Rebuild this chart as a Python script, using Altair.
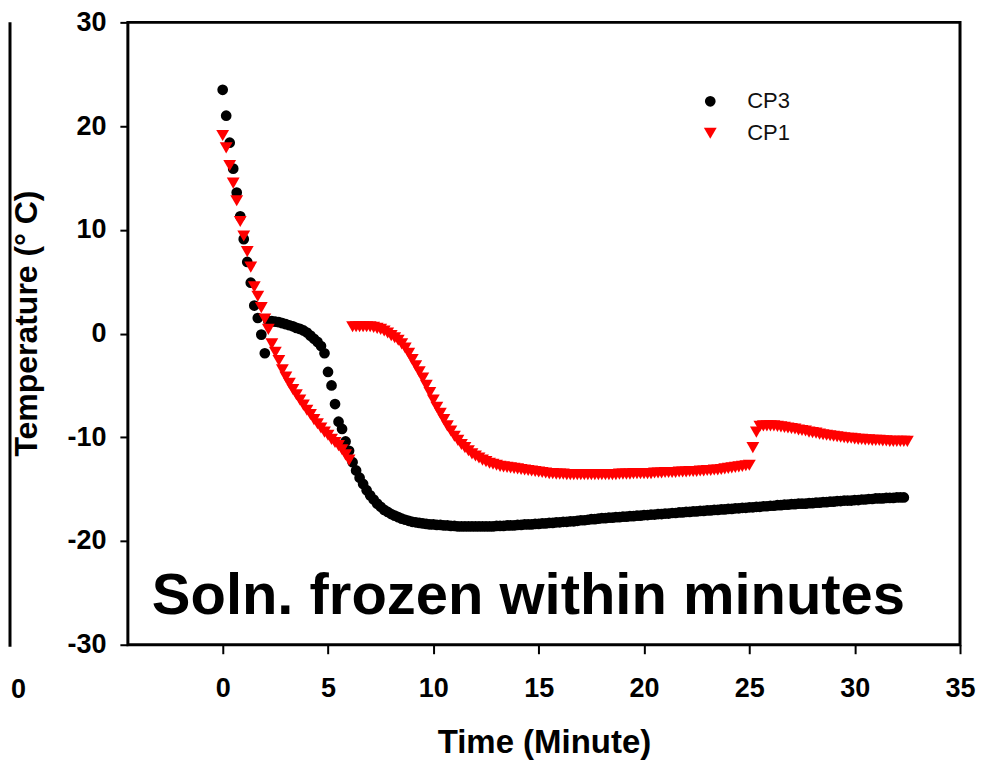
import altair as alt
import pandas as pd

# sampling times (seconds, 10 s logger interval)
seconds = [
    0, 10, 20, 30, 40, 50, 60, 70, 80, 90, 100, 110,
    120, 130, 140, 150, 160, 170, 180, 190, 200, 210, 220, 230,
    240, 250, 260, 270, 280, 290, 300, 310, 320, 330, 340, 350,
    360, 370, 380, 390, 400, 410, 420, 430, 440, 450, 460, 470,
    480, 490, 500, 510, 520, 530, 540, 550, 560, 570, 580, 590,
    600, 610, 620, 630, 640, 650, 660, 670, 680, 690, 700, 710,
    720, 730, 740, 750, 760, 770, 780, 790, 800, 810, 820, 830,
    840, 850, 860, 870, 880, 890, 900, 910, 920, 930, 940, 950,
    960, 970, 980, 990, 1000, 1010, 1020, 1030, 1040, 1050, 1060, 1070,
    1080, 1090, 1100, 1110, 1120, 1130, 1140, 1150, 1160, 1170, 1180, 1190,
    1200, 1210, 1220, 1230, 1240, 1250, 1260, 1270, 1280, 1290, 1300, 1310,
    1320, 1330, 1340, 1350, 1360, 1370, 1380, 1390, 1400, 1410, 1420, 1430,
    1440, 1450, 1460, 1470, 1480, 1490, 1500, 1510, 1520, 1530, 1540, 1550,
    1560, 1570, 1580, 1590, 1600, 1610, 1620, 1630, 1640, 1650, 1660, 1670,
    1680, 1690, 1700, 1710, 1720, 1730, 1740, 1750, 1760, 1770, 1780, 1790,
    1800, 1810, 1820, 1830, 1840, 1850, 1860, 1870, 1880, 1890, 1900, 1910,
    1920, 1930, 1940, 1950,
]

cp3_temp = [
    23.5, 21.0, 18.4, 15.9, 13.6, 11.3, 9.1, 6.9, 4.9, 2.7, 1.5, -0.1,
    -1.9, 1.2, 1.2, 1.15, 1.1, 1.0, 0.9, 0.8, 0.7, 0.55, 0.45, 0.3,
    0.1, -0.2, -0.5, -0.8, -1.2, -1.9, -3.7, -5.0, -6.8, -8.5, -9.2, -10.4,
    -11.3, -12.4, -13.2, -13.9, -14.5, -15.1, -15.6, -16.0, -16.4, -16.7, -17.0, -17.2,
    -17.4, -17.55, -17.7, -17.85, -17.95, -18.05, -18.15, -18.2, -18.25, -18.3, -18.35, -18.4,
    -18.4, -18.45, -18.45, -18.5, -18.5, -18.55, -18.55, -18.6, -18.6, -18.6, -18.6, -18.6,
    -18.6, -18.6, -18.6, -18.6, -18.6, -18.6, -18.55, -18.55, -18.55, -18.5, -18.5, -18.5,
    -18.45, -18.45, -18.4, -18.4, -18.4, -18.35, -18.35, -18.3, -18.3, -18.25, -18.25, -18.2,
    -18.2, -18.15, -18.15, -18.1, -18.1, -18.05, -18.0, -18.0, -17.95, -17.9, -17.9, -17.85,
    -17.8, -17.8, -17.75, -17.75, -17.7, -17.7, -17.65, -17.65, -17.6, -17.6, -17.55, -17.55,
    -17.5, -17.5, -17.45, -17.45, -17.4, -17.4, -17.35, -17.35, -17.3, -17.3, -17.25, -17.25,
    -17.2, -17.2, -17.15, -17.15, -17.1, -17.1, -17.05, -17.05, -17.0, -17.0, -16.95, -16.95,
    -16.9, -16.9, -16.85, -16.85, -16.8, -16.8, -16.75, -16.75, -16.7, -16.7, -16.65, -16.65,
    -16.6, -16.6, -16.55, -16.55, -16.5, -16.5, -16.45, -16.45, -16.4, -16.4, -16.4, -16.35,
    -16.35, -16.3, -16.3, -16.25, -16.25, -16.2, -16.2, -16.15, -16.15, -16.1, -16.1, -16.1,
    -16.05, -16.05, -16.0, -16.0, -15.95, -15.95, -15.9, -15.9, -15.9, -15.85, -15.85, -15.85,
    -15.8, -15.8, -15.8,
]

cp1_temp = [
    19.1, 17.9, 16.2, 14.5, 12.8, 10.8, 9.4, 7.9, 6.4, 4.5, 3.6, 2.5,
    1.4, 0.4, -1.0, -1.8, -2.6, -3.5, -4.2, -4.8, -5.4, -5.9, -6.4, -6.9,
    -7.4, -7.8, -8.3, -8.7, -9.1, -9.5, -9.8, -10.2, -10.5, -10.8, -11.2, -11.7,
    -12.2, 0.65, 0.65, 0.65, 0.65, 0.65, 0.65, 0.6, 0.5, 0.4, 0.25, 0.05,
    -0.2, -0.4, -0.65, -1.0, -1.4, -1.9, -2.5, -3.1, -3.7, -4.3, -5.0, -5.7,
    -6.4, -7.1, -7.7, -8.3, -8.9, -9.4, -9.9, -10.3, -10.7, -11.0, -11.3, -11.6,
    -11.8, -12.0, -12.2, -12.35, -12.5, -12.6, -12.7, -12.8, -12.85, -12.9, -12.95, -13.0,
    -13.05, -13.1, -13.15, -13.2, -13.25, -13.3, -13.35, -13.4, -13.45, -13.5, -13.5, -13.55,
    -13.55, -13.55, -13.6, -13.6, -13.6, -13.6, -13.6, -13.6, -13.6, -13.6, -13.6, -13.6,
    -13.6, -13.6, -13.6, -13.6, -13.6, -13.55, -13.55, -13.55, -13.55, -13.5, -13.5, -13.5,
    -13.5, -13.5, -13.5, -13.45, -13.45, -13.45, -13.4, -13.4, -13.4, -13.4, -13.35, -13.35,
    -13.35, -13.3, -13.3, -13.3, -13.25, -13.25, -13.2, -13.2, -13.15, -13.15, -13.1, -13.05,
    -13.0, -12.95, -12.9, -12.85, -12.8, -12.75, -12.7, -11.0, -9.5, -8.95, -8.9, -8.9,
    -8.9, -8.9, -8.95, -9.0, -9.05, -9.1, -9.15, -9.2, -9.3, -9.35, -9.4, -9.5,
    -9.55, -9.6, -9.7, -9.75, -9.8, -9.85, -9.9, -9.95, -10.0, -10.05, -10.1, -10.1,
    -10.15, -10.2, -10.2, -10.25, -10.25, -10.3, -10.3, -10.3, -10.35, -10.35, -10.4, -10.4,
    -10.4, -10.4, -10.4, -10.4,
]

series_names = ["CP3", "CP1"]
x_ticks = [0, 5, 10, 15, 20, 25, 30, 35]
y_ticks = [-30, -20, -10, 0, 10, 20, 30]
note_text = ["Soln. frozen within minutes"]
edge_label = ["0"]

rows = []
for name, temps in zip(series_names, [cp3_temp, cp1_temp]):
    for s, t in zip(seconds, temps):
        rows.append({"series": name, "sec": s, "temp": t})
df = pd.DataFrame(rows)

FONT = "Liberation Sans"

legend = alt.Legend(
    title=None, orient="none", legendX=572, legendY=68,
    labelFont=FONT, labelFontSize=22, labelFontWeight="normal", labelColor="#111111",
    symbolSize=130, symbolStrokeWidth=0, labelOffset=26, rowPadding=10, padding=0,
)

points = (
    alt.Chart(df)
    .transform_calculate(minute="datum.sec / 60")
    .mark_point(filled=True, opacity=1, strokeWidth=0)
    .encode(
        x=alt.X(
            "minute:Q",
            scale=alt.Scale(domain=[-4.5, 35], nice=False, zero=False),
            axis=alt.Axis(
                values=x_ticks, title="Time (Minute)", labelPadding=22, tickSize=9,
                titleFontSize=33, titleY=108, titleBaseline="alphabetic",
            ),
        ),
        y=alt.Y(
            "temp:Q",
            scale=alt.Scale(domain=[-30, 30], nice=False, zero=False),
            axis=alt.Axis(
                values=y_ticks, title="Temperature (° C)", labelPadding=14, tickSize=8,
                titleFontSize=32, titleX=-91, titleY=301, titleBaseline="alphabetic",
                titleAlign="center",
            ),
        ),
        color=alt.Color("series:N", scale=alt.Scale(domain=series_names, range=["#000000", "#ff0000"]), legend=legend),
        shape=alt.Shape("series:N", scale=alt.Scale(domain=series_names, range=["circle", "triangle-down"]), legend=legend),
        size=alt.Size("series:N", scale=alt.Scale(domain=series_names, range=[115, 165]), legend=None),
    )
)

note = (
    alt.Chart(pd.DataFrame({"label": note_text}))
    .mark_text(align="left", baseline="alphabetic", font=FONT, fontWeight="bold", fontSize=58, color="black")
    .encode(text="label:N", x=alt.value(24), y=alt.value(592))
)

edge_rule = (
    alt.Chart(pd.DataFrame({"label": edge_label}))
    .mark_rule(color="black", strokeWidth=3)
    .encode(x=alt.value(-118), y=alt.value(0), y2=alt.value(625))
)

edge_text = (
    alt.Chart(pd.DataFrame({"label": edge_label}))
    .mark_text(align="left", baseline="alphabetic", font=FONT, fontWeight="bold", fontSize=27, color="black")
    .encode(text="label:N", x=alt.value(-117), y=alt.value(676))
)

chart = (
    alt.layer(points, note, edge_rule, edge_text)
    .properties(
        width=833, height=623,
        padding={"left": 120, "top": 14, "right": 16, "bottom": 115},
        autosize=alt.AutoSizeParams(type="none"),
        background="white",
    )
    .configure_view(stroke="black", strokeWidth=3)
    .configure_axis(
        labelFont=FONT, labelFontSize=27, labelFontWeight="bold", labelColor="black",
        titleFont=FONT, titleFontWeight="bold", titleColor="black",
        tickColor="black", tickWidth=2, domain=False, grid=False,
        labelFlush=False, labelOverlap=False,
        labelExpr="'' + datum.value",
    )
)

chart.save("out.html", embed_options={"renderer": "svg", "actions": False})
